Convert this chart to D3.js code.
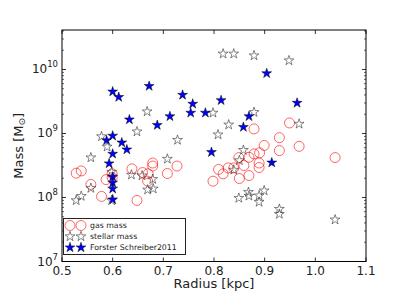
<!DOCTYPE html>
<html>
<head>
<meta charset="utf-8">
<script src="https://cdn.jsdelivr.net/npm/d3@7"></script>
<style>
  body { margin: 0; background: #fff; }
  text { font-family: "DejaVu Sans", sans-serif; }
</style>
</head>
<body>
<svg id="chart" width="407" height="305"></svg>
<script>
// gas mass (red open circles)
const gasR = [0.528, 0.538, 0.557, 0.578, 0.587, 0.599, 0.599, 0.638, 0.648, 0.659,
  0.67, 0.669, 0.679, 0.679, 0.708, 0.727, 0.798, 0.809, 0.818, 0.828,
  0.839, 0.85, 0.849, 0.859, 0.869, 0.869, 0.879, 0.89, 0.889, 0.889,
  0.899, 0.929, 0.929, 0.968, 1.039, 0.879, 0.949];
const gasM = [2.4e8, 2.6e8, 1.6e8, 1.04e8, 1.9e8, 2.35e8, 2.05e8, 2.8e8, 9.0e7, 2.45e8,
  2.35e8, 1.8e8, 3.46e8, 3.1e8, 2.37e8, 3.1e8, 1.8e8, 2.74e8, 2.34e8, 2.9e8,
  2.9e8, 1.98e8, 4.2e8, 3.16e8, 4.25e8, 2.2e8, 4.8e8, 5.0e8, 3.46e8, 2.94e8,
  6.5e8, 8.6e8, 5.4e8, 6.3e8, 4.2e8, 1.18e9, 1.46e9];

// stellar mass (open stars)
const starR = [0.668, 0.648, 0.578, 0.728, 0.798, 0.808, 0.818, 0.839, 0.879, 0.948,
  0.879, 0.829, 0.968, 0.589, 0.557, 0.708, 0.598, 0.637, 0.658, 0.679,
  0.669, 0.68, 0.557, 0.538, 0.528, 0.598, 0.858, 0.85, 0.839, 0.868,
  0.869, 0.849, 0.889, 0.899, 0.889, 0.929, 0.929, 1.039];
const starM = [2.2e9, 1.07e9, 9.0e8, 7.9e8, 2.1e9, 9.6e8, 1.76e10, 1.76e10, 1.65e10, 1.38e10,
  2.15e9, 1.37e9, 1.41e9, 6.2e8, 4.2e8, 4.0e8, 2.5e8, 2.26e8, 2.2e8, 1.93e8,
  1.32e8, 1.37e8, 1.4e8, 1.05e8, 9.0e7, 9.0e7, 5.5e8, 3.8e8, 2.7e8, 1.21e8,
  1.06e8, 9.8e7, 1.07e8, 1.28e8, 8.5e7, 6.6e7, 5.5e7, 4.5e7];

// Forster Schreiber 2011 (filled blue stars)
const fsR = [0.6, 0.612, 0.672, 0.633, 0.688, 0.713, 0.738, 0.758, 0.754, 0.783,
  0.814, 0.904, 0.869, 0.858, 0.964, 0.6, 0.588, 0.618, 0.628, 0.6,
  0.593, 0.6, 0.6, 0.6, 0.6, 0.795, 0.914];
const fsM = [4.5e9, 3.7e9, 5.5e9, 1.65e9, 1.35e9, 1.85e9, 4.0e9, 2.9e9, 2.1e9, 2.1e9,
  3.3e9, 8.7e9, 1.85e9, 1.26e9, 3.0e9, 9.2e8, 7.8e8, 7.2e8, 5.6e8, 4.8e8,
  3.4e8, 2.1e8, 1.7e8, 1.37e8, 9.3e7, 5.1e8, 3.5e8];

const xTicks = [0.5, 0.6, 0.7, 0.8, 0.9, 1.0, 1.1];
const yExps = [7, 8, 9, 10];
const legendLabels = ["gas mass", "stellar mass", "Forster Schreiber2011"];

const svg = d3.select("#chart");
const pl = 62, pr = 366, pt = 30, pb = 261.5;

const x = d3.scaleLinear().domain([0.5, 1.1]).range([pl, pr]);
const y = d3.scaleLog().domain([1e7, Math.pow(10, 10.617)]).range([pb, pt]);

const star = d3.symbol().type(d3.symbolStar).size(30);

// frame
svg.append("rect")
  .attr("x", pl).attr("y", pt)
  .attr("width", pr - pl).attr("height", pb - pt)
  .attr("fill", "none").attr("stroke", "#000").attr("stroke-width", 1);

// x ticks (inward, top + bottom)
const xg = svg.append("g");
xTicks.forEach(t => {
  xg.append("line").attr("x1", x(t)).attr("x2", x(t)).attr("y1", pb).attr("y2", pb - 4)
    .attr("stroke", "#000").attr("stroke-width", 0.8);
  xg.append("line").attr("x1", x(t)).attr("x2", x(t)).attr("y1", pt).attr("y2", pt + 4)
    .attr("stroke", "#000").attr("stroke-width", 0.8);
  xg.append("text").attr("x", x(t)).attr("y", pb + 13)
    .attr("text-anchor", "middle").attr("font-size", 12).attr("fill", "#222")
    .text(t.toFixed(1));
});

// y ticks, log major + minor
const yg = svg.append("g");
const minors = [];
for (let e = 7; e <= 10; e++) {
  for (let k = 2; k <= 9; k++) {
    const v = k * Math.pow(10, e);
    if (v <= y.domain()[1]) minors.push(v);
  }
}
minors.forEach(v => {
  yg.append("line").attr("x1", pl).attr("x2", pl + 2).attr("y1", y(v)).attr("y2", y(v))
    .attr("stroke", "#000").attr("stroke-width", 0.6);
  yg.append("line").attr("x1", pr).attr("x2", pr - 2).attr("y1", y(v)).attr("y2", y(v))
    .attr("stroke", "#000").attr("stroke-width", 0.6);
});
yExps.forEach(e => {
  const v = Math.pow(10, e);
  yg.append("line").attr("x1", pl).attr("x2", pl + 4).attr("y1", y(v)).attr("y2", y(v))
    .attr("stroke", "#000").attr("stroke-width", 0.8);
  yg.append("line").attr("x1", pr).attr("x2", pr - 4).attr("y1", y(v)).attr("y2", y(v))
    .attr("stroke", "#000").attr("stroke-width", 0.8);
  const t = yg.append("text").attr("x", pl - 4).attr("y", y(v) + 4)
    .attr("text-anchor", "end").attr("font-size", 12).attr("fill", "#222");
  t.append("tspan").text("10");
  t.append("tspan").attr("dy", -6).attr("font-size", 8.5).text(e);
});

// axis labels
svg.append("text").attr("x", (pl + pr) / 2).attr("y", 288)
  .attr("text-anchor", "middle").attr("font-size", 13).attr("fill", "#222")
  .text("Radius [kpc]");

const yl = svg.append("text")
  .attr("transform", `translate(23,${(pt + pb) / 2}) rotate(-90)`)
  .attr("text-anchor", "middle").attr("font-size", 13).attr("fill", "#222");
yl.append("tspan").text("Mass [M");
yl.append("tspan").attr("font-size", 9).attr("dy", 2).text("⊙");
yl.append("tspan").attr("dy", -2).text("]");

// data
const plot = svg.append("g");
plot.selectAll("circle.gas").data(d3.zip(gasR, gasM)).enter().append("circle")
  .attr("class", "gas")
  .attr("cx", d => x(d[0])).attr("cy", d => y(d[1])).attr("r", 5)
  .attr("fill", "none").attr("stroke", "red").attr("stroke-opacity", 0.6).attr("stroke-width", 1);

plot.selectAll("path.stellar").data(d3.zip(starR, starM)).enter().append("path")
  .attr("class", "stellar")
  .attr("d", star)
  .attr("transform", d => `translate(${x(d[0])},${y(d[1])})`)
  .attr("fill", "none").attr("stroke", "#333").attr("stroke-width", 0.6);

plot.selectAll("path.fs").data(d3.zip(fsR, fsM)).enter().append("path")
  .attr("class", "fs")
  .attr("d", star)
  .attr("transform", d => `translate(${x(d[0])},${y(d[1])})`)
  .attr("fill", "#0000ff").attr("stroke", "#000").attr("stroke-width", 0.5);

// legend
const lg = svg.append("g");
lg.append("rect").attr("x", 63.5).attr("y", 218.5).attr("width", 122).attr("height", 36)
  .attr("fill", "#fff").attr("stroke", "#222").attr("stroke-width", 1);
legendLabels.forEach((lab, i) => {
  const ly = 225.5 + i * 11;
  [70, 81].forEach(mx => {
    if (i === 0) {
      lg.append("circle").attr("cx", mx).attr("cy", ly).attr("r", 5)
        .attr("fill", "none").attr("stroke", "red").attr("stroke-opacity", 0.6);
    } else {
      lg.append("path").attr("d", star).attr("transform", `translate(${mx},${ly})`)
        .attr("fill", i === 1 ? "none" : "#0000ff")
        .attr("stroke", i === 1 ? "#333" : "#000").attr("stroke-width", i === 1 ? 0.6 : 0.5);
    }
  });
  lg.append("text").attr("x", 90).attr("y", ly + 2.7).attr("font-size", 7.8).attr("fill", "#222")
    .text(lab);
});
</script>
</body>
</html>
